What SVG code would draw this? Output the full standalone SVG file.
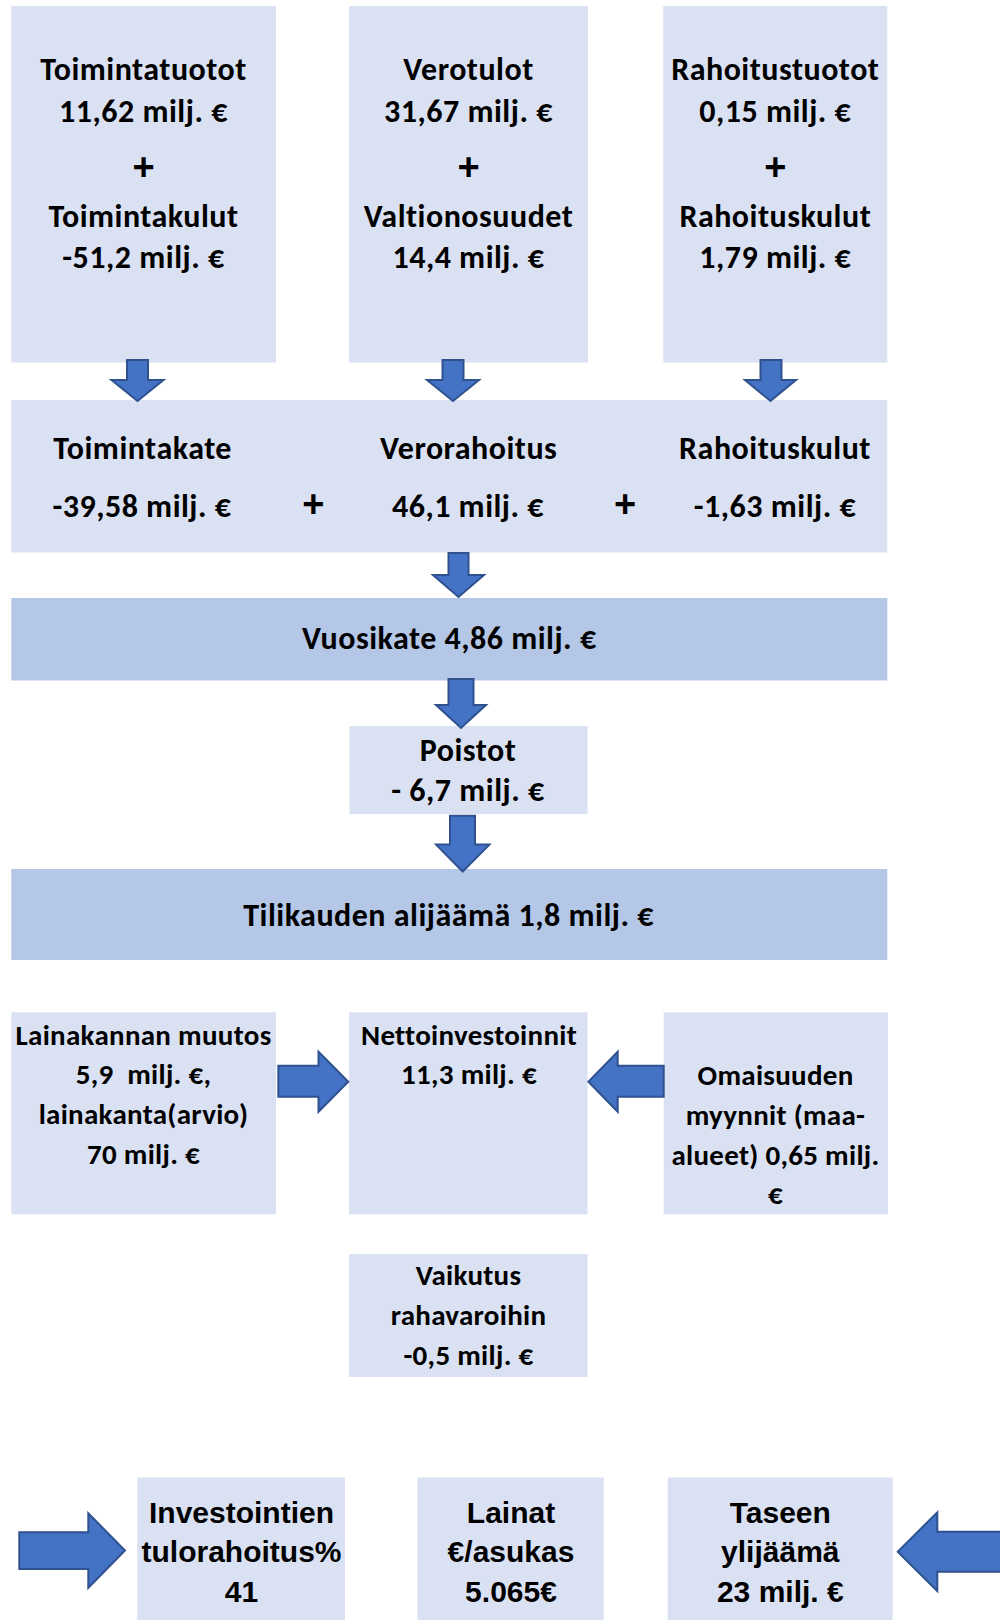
<svg xmlns="http://www.w3.org/2000/svg" width="1000" height="1620" viewBox="0 0 1000 1620">
<style>
.lt{fill:#DAE1F2}
.dk{fill:#B4C7E7}
.t{font-family:Carlito,Lato,"Open Sans",sans-serif;font-weight:700;fill:#000;text-anchor:middle;font-size:32px;letter-spacing:0.5px;font-variant-ligatures:none;font-feature-settings:"liga" 0}
.s{font-size:29px;letter-spacing:0.3px}
.a{font-family:"Liberation Sans",Arial,sans-serif;font-weight:700;fill:#000;text-anchor:middle;font-size:30px}
.p{font-family:"Liberation Sans",Arial,sans-serif;font-weight:700;fill:#000;text-anchor:middle;font-size:38px}
.ar{fill:#4472C4;stroke:#2F528F;stroke-width:2;stroke-linejoin:miter}
</style>
<rect width="1000" height="1620" fill="#fff"/>
<g id="toimintatuotot">
<rect class="lt" x="11.3" y="6" width="264.7" height="356.5"/>
<text class="t" x="143.5" y="80">Toimintatuotot</text>
<text class="t" x="143.5" y="121.7">11,62 milj. €</text>
<text class="p" x="143.5" y="179.5">+</text>
<text class="t" x="143.5" y="226.7">Toimintakulut</text>
<text class="t" x="143.5" y="268">-51,2 milj. €</text>
</g>
<g id="verotulot">
<rect class="lt" x="349" y="6" width="239" height="356.5"/>
<text class="t" x="468.5" y="80">Verotulot</text>
<text class="t" x="468.5" y="121.7">31,67 milj. €</text>
<text class="p" x="468.5" y="179.5">+</text>
<text class="t" x="468.5" y="226.7">Valtionosuudet</text>
<text class="t" x="468.5" y="268">14,4 milj. €</text>
</g>
<g id="rahoitustuotot">
<rect class="lt" x="663.3" y="6" width="224" height="356.5"/>
<text class="t" x="775.3" y="80">Rahoitustuotot</text>
<text class="t" x="775.3" y="121.7">0,15 milj. €</text>
<text class="p" x="775.3" y="179.5">+</text>
<text class="t" x="775.3" y="226.7">Rahoituskulut</text>
<text class="t" x="775.3" y="268">1,79 milj. €</text>
</g>
<g id="katteet">
<rect class="lt" x="11.3" y="400" width="876" height="152.5"/>
<text class="t" x="142.6" y="458.5">Toimintakate</text>
<text class="t" x="142" y="516.5">-39,58 milj. €</text>
<text class="p" x="313.3" y="516.5">+</text>
<text class="t" x="468.7" y="458.5">Verorahoitus</text>
<text class="t" x="468" y="516.5">46,1 milj. €</text>
<text class="p" x="625" y="516.5">+</text>
<text class="t" x="775" y="458.5">Rahoituskulut</text>
<text class="t" x="775" y="516.5">-1,63 milj. €</text>
</g>
<g id="vuosikate">
<rect class="dk" x="11.3" y="598" width="876" height="82.5"/>
<text class="t" x="449.3" y="649.3">Vuosikate 4,86 milj. €</text>
</g>
<g id="poistot">
<rect class="lt" x="349.5" y="726" width="238" height="88"/>
<text class="t" x="468" y="760.5">Poistot</text>
<text class="t" x="468" y="800.5">- 6,7 milj. €</text>
</g>
<g id="tilikauden">
<rect class="dk" x="11.3" y="869" width="876" height="91"/>
<text class="t" x="448.6" y="925.5">Tilikauden alijäämä 1,8 milj. €</text>
</g>
<g id="lainakanta">
<rect class="lt" x="11.3" y="1012.3" width="264.7" height="202"/>
<text class="t s" x="143.5" y="1045">Lainakannan muutos</text>
<text class="t s" x="143.5" y="1083.5" xml:space="preserve">5,9  milj. €,</text>
<text class="t s" x="143.5" y="1123.5">lainakanta(arvio)</text>
<text class="t s" x="143.5" y="1164">70 milj. €</text>
</g>
<g id="nettoinvestoinnit">
<rect class="lt" x="349" y="1012.3" width="238.5" height="202"/>
<text class="t s" x="469" y="1044.5">Nettoinvestoinnit</text>
<text class="t s" x="469" y="1084">11,3 milj. €</text>
</g>
<g id="omaisuuden">
<rect class="lt" x="663.7" y="1012.3" width="224.3" height="202"/>
<text class="t s" x="775.5" y="1084.5">Omaisuuden</text>
<text class="t s" x="775.5" y="1124.5">myynnit (maa-</text>
<text class="t s" x="775.5" y="1164.5">alueet) 0,65 milj.</text>
<text class="t s" x="775.5" y="1203.5">€</text>
</g>
<g id="vaikutus">
<rect class="lt" x="349" y="1254" width="238.5" height="123"/>
<text class="t s" x="468.5" y="1285">Vaikutus</text>
<text class="t s" x="468.5" y="1325">rahavaroihin</text>
<text class="t s" x="468.5" y="1365">-0,5 milj. €</text>
</g>
<g id="investointien">
<rect class="lt" x="137.3" y="1477.5" width="207.7" height="142.5"/>
<text class="a" x="241.5" y="1522.5">Investointien</text>
<text class="a" x="241.5" y="1562">tulorahoitus%</text>
<text class="a" x="241.5" y="1602">41</text>
</g>
<g id="lainat">
<rect class="lt" x="417.4" y="1477.5" width="186.3" height="142.5"/>
<text class="a" x="511" y="1522.5">Lainat</text>
<text class="a" x="511" y="1562">€/asukas</text>
<text class="a" x="511" y="1602">5.065€</text>
</g>
<g id="taseen">
<rect class="lt" x="667.7" y="1477.5" width="225" height="142.5"/>
<text class="a" x="780.3" y="1522.5">Taseen</text>
<text class="a" x="780.3" y="1562">ylijäämä</text>
<text class="a" x="780.3" y="1602">23 milj. €</text>
</g>
<g id="connectors">
<polygon class="ar" points="127,360 148,360 148,380 163.5,380 137.5,401 111.5,380 127,380"/>
<polygon class="ar" points="442.5,360 463.5,360 463.5,380 479,380 453,401 427,380 442.5,380"/>
<polygon class="ar" points="760.5,360 781.5,360 781.5,380 796,380 770.5,401 745,380 760.5,380"/>
<polygon class="ar" points="448.5,553 468.5,553 468.5,575 484,575 458.5,597 433,575 448.5,575"/>
<polygon class="ar" points="448.5,679 473.5,679 473.5,705 486,705 461,728 436,705 448.5,705"/>
<polygon class="ar" points="450,815.8 475,815.8 475,844.6 489.5,844.6 462.7,871.5 436,844.6 450,844.6"/>
<polygon class="ar" points="278.3,1065.7 318.5,1065.7 318.5,1051.7 348.3,1081.7 318.5,1111.7 318.5,1096.7 278.3,1096.7"/>
<polygon class="ar" points="663.7,1065.7 617.7,1065.7 617.7,1051.7 588.4,1081.7 617.7,1111.7 617.7,1096.7 663.7,1096.7"/>
<polygon class="ar" points="19.3,1532.3 88.3,1532.3 88.3,1513.3 125,1550.5 88.3,1587.7 88.3,1569 19.3,1569"/>
<polygon class="ar" points="1003,1531.7 937.3,1531.7 937.3,1512.3 897.7,1551.7 937.3,1591 937.3,1571.7 1003,1571.7"/>
</g>
</svg>
